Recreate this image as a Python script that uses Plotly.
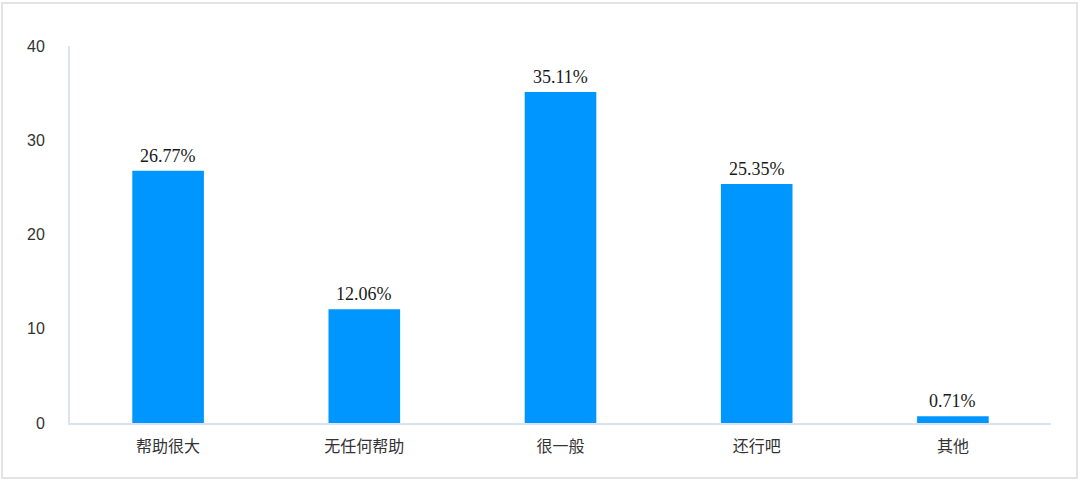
import plotly.graph_objects as go

categories = ["帮助很大", "无任何帮助", "很一般", "还行吧", "其他"]
values = [26.77, 12.06, 35.11, 25.35, 0.71]
labels = ["26.77%", "12.06%", "35.11%", "25.35%", "0.71%"]
y_ticks = [0, 10, 20, 30, 40]

W, H = 1080, 481
L, R, T, B = 70, 29, 46, 58
pw, ph = W - L - R, H - T - B

fig = go.Figure()
fig.add_trace(go.Bar(
    x=categories, y=values,
    marker=dict(color="#0096ff", line=dict(width=0)),
    width=0.365,
    hoverinfo="x+y",
))

for c, v, t in zip(categories, values, labels):
    fig.add_annotation(x=c, y=v, text=t, showarrow=False, yanchor="bottom",
                       yshift=3, font=dict(family="Liberation Serif", size=18, color="#1a1a1a"))

# outer border
fig.add_shape(type="rect", xref="paper", yref="paper",
              x0=(2 - L) / pw, x1=(1077 - L) / pw,
              y0=(H - B - 478) / ph, y1=(H - B - 3) / ph,
              line=dict(color="#e3e3e3", width=2), fillcolor="rgba(0,0,0,0)", layer="below")

fig.update_layout(
    width=W, height=H,
    margin=dict(l=L, r=R, t=T, b=B),
    paper_bgcolor="white", plot_bgcolor="white",
    showlegend=False,
    xaxis=dict(showgrid=False, showline=True, linecolor="#dbe3f3", linewidth=2,
               ticks="", tickfont=dict(family="Noto Sans CJK SC", size=16, color="#333333"),
               ticklabelstandoff=8, fixedrange=True),
    yaxis=dict(range=[0, 40], tickvals=y_ticks, showgrid=False, zeroline=False,
               showline=True, linecolor="#dbe3f3", linewidth=2, ticks="",
               tickfont=dict(family="Liberation Sans", size=16, color="#333333"),
               ticklabelstandoff=20, fixedrange=True),
)

fig.write_html("out.html", config={"displayModeBar": False},
               post_script="document.body.style.margin='0';document.body.style.overflow='hidden';")
